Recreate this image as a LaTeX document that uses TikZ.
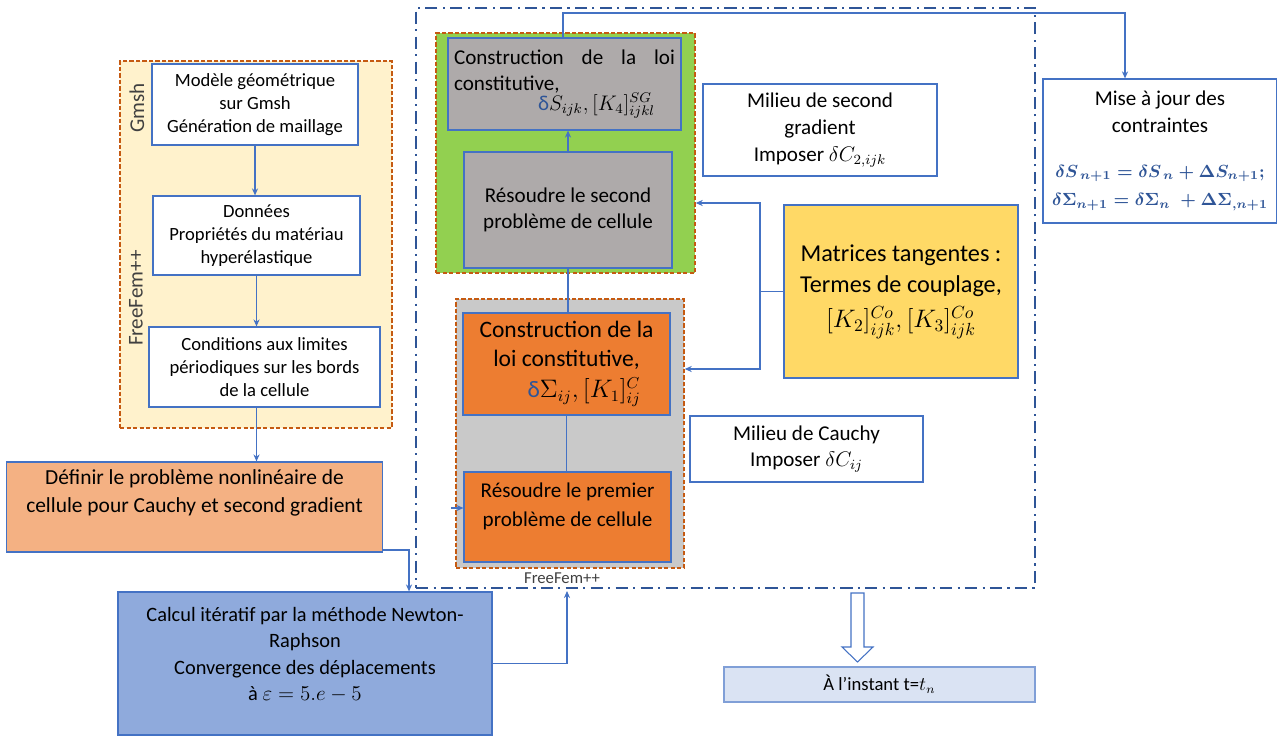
\documentclass[tikz,border=0pt]{standalone}
\usepackage{amsmath}
\usepackage{fontspec}
\setmainfont{Carlito}
\usetikzlibrary{arrows.meta}

\definecolor{bleu}{HTML}{4472C4}
\definecolor{bleufonce}{HTML}{2F5597}
\definecolor{orangefonce}{HTML}{C55A11}
\definecolor{jaunepale}{HTML}{FFF2CC}
\definecolor{vertclair}{HTML}{92D050}
\definecolor{grisboite}{HTML}{AEAAAA}
\definecolor{grispanneau}{HTML}{C9C9C9}
\definecolor{orangevif}{HTML}{ED7D31}
\definecolor{saumon}{HTML}{F4B183}
\definecolor{bleumoyen}{HTML}{8FAADC}
\definecolor{jaune}{HTML}{FFD966}
\definecolor{bleupale}{HTML}{DAE3F3}

\tikzset{
  boite/.style={draw=bleu, line width=0.7pt, align=center, inner sep=2pt,
    font=\fontsize{10.6}{13}\selectfont},
  cadre/.style={draw=orangefonce, line width=0.9pt, dash pattern=on 2.5pt off 1.2pt},
  lien/.style={bleu, line width=0.8pt},
  fleche/.style={lien, -{Stealth[length=4pt,width=3.5pt]}},
  externe/.style={draw=bleufonce, line width=1.1pt,
    dash pattern=on 7pt off 3pt on 1.2pt off 3pt},
}

\begin{document}
\begin{tikzpicture}[x=0.02cm, y=-0.02cm]
    \useasboundingbox (0,0) rectangle (1277,740);

    % Cadre externe (FreeFem++)
    \node[externe, minimum width=12.38cm, minimum height=11.6cm, inner sep=0pt] (ext) at (725.5,298) {};

    % Panneau de gauche : Gmsh / FreeFem++
    \node[cadre, fill=jaunepale, minimum width=5.44cm, minimum height=7.34cm] (gauche) at (256,244.5) {};
    \node[rotate=90, text=black!75, font=\fontsize{12}{14}\selectfont] (lgmsh) at (137,108) {Gmsh};
    \node[rotate=90, text=black!75, font=\fontsize{12}{14}\selectfont] (lff) at (136,298) {FreeFem++};

    \node[boite, fill=white, minimum width=4.12cm, minimum height=1.62cm] (gmsh) at (255,104.5)
        {Modèle géométrique\\sur Gmsh\\Génération de maillage};
    \node[boite, fill=white, minimum width=4.14cm, minimum height=1.58cm] (donnees) at (256.5,235.5)
        {Données\\Propriétés du matériau\\hyperélastique};
    \node[boite, fill=white, minimum width=4.62cm, minimum height=1.6cm] (cond) at (264.5,367)
        {Conditions aux limites\\périodiques sur les bords\\de la cellule};

    % Probleme et calcul iteratif
    \node[boite, fill=saumon, minimum width=7.52cm, minimum height=1.8cm,
          font=\fontsize{12.2}{16}\selectfont] (definir) at (194.5,507)
        {Définir le problème nonlinéaire de\\cellule pour Cauchy et second gradient\\[2pt]\mbox{}};
    \node[boite, fill=bleumoyen, minimum width=7.48cm, minimum height=2.86cm,
          font=\fontsize{11.6}{15}\selectfont] (calcul) at (305,663.5)
        {Calcul itératif par la méthode Newton-\\Raphson\\Convergence des déplacements\\
         à $\varepsilon = 5.e - 5$\\[-4pt]\mbox{}};

    % Second gradient (panneau vert)
    \node[cadre, fill=vertclair, minimum width=5.18cm, minimum height=4.8cm] (vert) at (565.5,153) {};
    \node[boite, fill=grisboite, minimum width=4.66cm, minimum height=1.84cm,
          font=\fontsize{12}{15}\selectfont] (constr2) at (564.5,84)
        {\parbox{4.42cm}{Construction de la loi\linebreak constitutive,\\[-4pt]
         \hspace*{\fill}{\color{bleufonce}δ}$S_{ijk},[K_4]_{ijkl}^{SG}$\hspace*{0.4cm}\null}};
    \node[boite, fill=grisboite, minimum width=4.16cm, minimum height=2.32cm,
          font=\fontsize{12}{14.8}\selectfont] (resoudre2) at (568,210)
        {Résoudre le second\\problème de cellule};

    % Cauchy (panneau gris)
    \node[cadre, fill=grispanneau, minimum width=4.56cm, minimum height=5.38cm] (gris) at (570,433.5) {};
    \node[font=\fontsize{9.5}{10}\selectfont, text=black!75, inner sep=1pt] (lff2) at (562,578) {FreeFem++};
    \node[boite, fill=orangevif, minimum width=4.14cm, minimum height=2.04cm,
          font=\fontsize{13.4}{16.5}\selectfont] (constr1) at (566.5,364)
        {Construction de la\\loi constitutive,\\[1pt]\hspace*{1.5em}{\color{bleufonce}δ}$\Sigma_{ij},[K_1]_{ij}^{C}$};
    \node[boite, fill=orangevif, minimum width=4.14cm, minimum height=1.8cm,
          font=\fontsize{12}{16}\selectfont] (resoudre1) at (567.5,517)
        {Résoudre le premier\\problème de cellule\\[-2pt]\mbox{}};

    % Milieux
    \node[boite, fill=white, minimum width=4.68cm, minimum height=1.84cm,
          font=\fontsize{12}{15.5}\selectfont] (milieu2) at (820,130)
        {Milieu de second\\gradient\\Imposer $\delta C_{2,ijk}$};
    \node[boite, fill=white, minimum width=4.66cm, minimum height=1.32cm,
          font=\fontsize{12}{15}\selectfont] (milieuC) at (806.5,449)
        {Milieu de Cauchy\\Imposer $\delta C_{ij}$};

    % Matrices tangentes
    \node[boite, fill=jaune, minimum width=4.68cm, minimum height=3.46cm,
          font=\fontsize{13.8}{18}\selectfont] (matrices) at (901,291.5)
        {Matrices tangentes :\\Termes de couplage,\\[2pt]$[K_2]_{ijk}^{Co}, [K_3]_{ijk}^{Co}$};

    % Mise a jour
    \node[boite, fill=white, minimum width=4.68cm, minimum height=2.88cm,
          font=\fontsize{12}{15.3}\selectfont] (mise) at (1160,151)
        {Mise à jour des\\contraintes\\[10pt]
         {\fontsize{10.4}{12}\selectfont\color{bleufonce}$\boldsymbol{\delta S_{\,n+1} = \delta S_{\,n} + \Delta S_{n+1};}$}\\[1pt]
         {\fontsize{10.4}{12}\selectfont\color{bleufonce}$\boldsymbol{\delta \Sigma_{n+1} = \delta \Sigma_{n} \;+\Delta \Sigma_{,n+1}}$}};

    % Instant
    \node[boite, fill=bleupale, draw=bleumoyen!80!bleu, minimum width=6.22cm, minimum height=0.7cm] (instant) at (879.5,684.5)
        {À l’instant t=$t_n$};

    % Liaisons de gauche
    \draw[fleche] (gmsh.south) -- (gmsh.south |- donnees.north);
    \draw[fleche] (donnees.south) -- (donnees.south |- cond.north);
    \draw[fleche] (cond.south -| donnees.south) -- (definir.north -| donnees.south);
    \coordinate (coude1) at (409,550);
    \draw[fleche] (definir.east |- coude1) -- (coude1) -- (coude1 |- calcul.north);
    \coordinate (retour) at (567,591);
    \draw[fleche] (calcul.east) -| (retour);

    % Liaisons du centre
    \coordinate (haut) at (1125,13);
    \draw[fleche] (constr2.north -| 563,0) |- (haut) -- (haut |- mise.north);
    \draw[fleche] (resoudre2.north) -- (resoudre2.north |- constr2.south);
    \draw[lien] (resoudre2.south) -- (resoudre2.south |- constr1.north);
    \draw[lien] (constr1.south) -- (constr1.south |- resoudre1.north);
    \coordinate (entree) at (451,508);
    \draw[fleche] (entree) -- (entree -| resoudre1.west);

    % Branches des matrices tangentes
    \coordinate (bh) at (760,203);
    \coordinate (bb) at (760,369);
    \draw[lien] (matrices.west) -- (matrices.west -| bh);
    \draw[fleche] (bh |- matrices.west) -- (bh) -- (bh -| vert.east);
    \draw[fleche] (bh |- matrices.west) -- (bb) -- (bb -| gris.east);

    % Fleche creuse vers l'instant
    \draw[bleu, line width=0.6pt, fill=white] (851,593) -- (864,593) -- (864,647) -- (873,647)
        -- (857.5,662) -- (842,647) -- (851,647) -- cycle;
\end{tikzpicture}
\end{document}
